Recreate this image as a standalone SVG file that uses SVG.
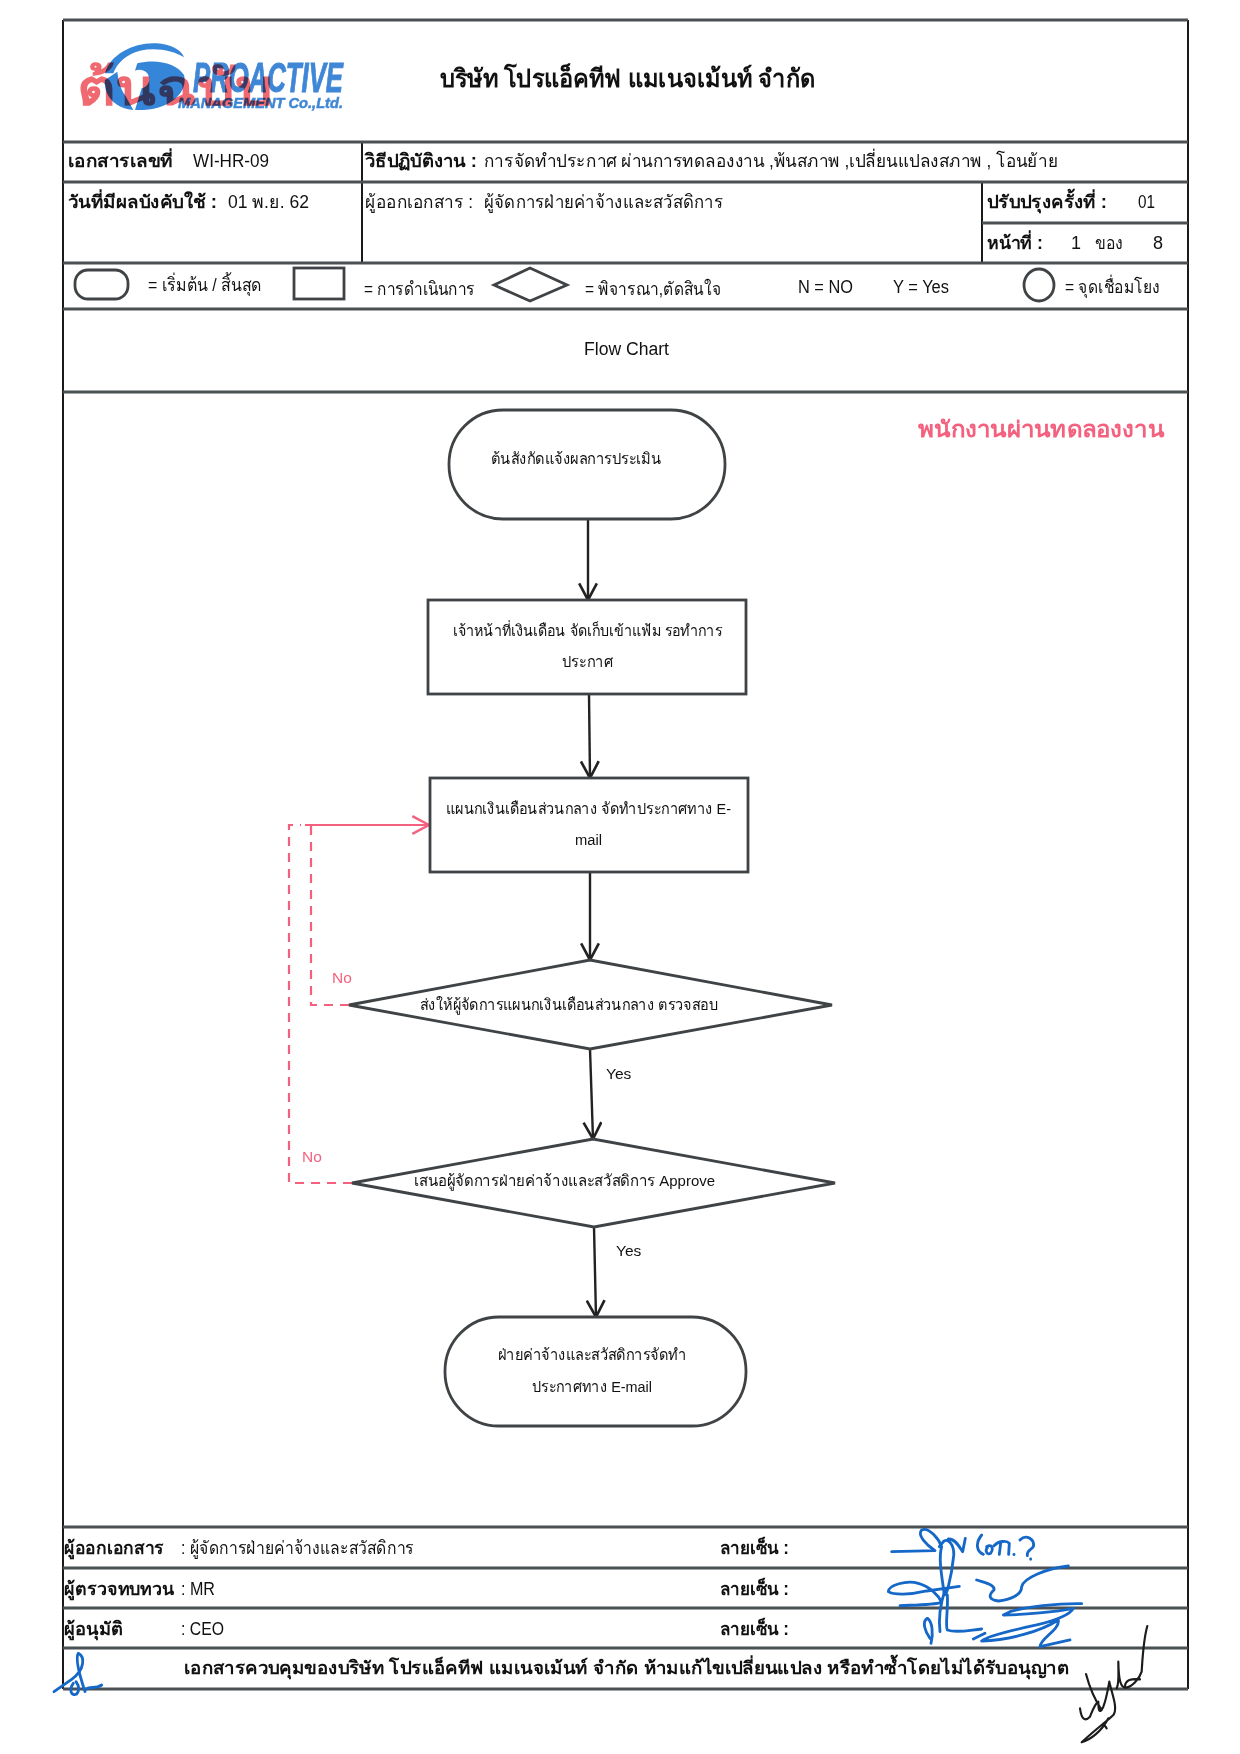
<svg xmlns="http://www.w3.org/2000/svg" width="1240" height="1754" viewBox="0 0 1240 1754">
<style>
text{font-family:"Liberation Sans","Noto Sans","DejaVu Sans",sans-serif;fill:#111;font-size:18px}
.b{font-weight:bold}
.s{font-size:15.5px}
.grid{stroke:#4b5052;stroke-width:3;fill:none}
.thin{stroke:#1a1a1a;stroke-width:2;fill:none}
.shape{fill:#fff;stroke:#3f4345;stroke-width:2.8}
.flow{stroke:#222;stroke-width:2.4;fill:none;marker-end:url(#ah)}
.pinkd{stroke:#f4617f;stroke-width:2.2;fill:none;stroke-dasharray:9 7}
.pinks{stroke:#f4617f;stroke-width:2.2;fill:none;marker-end:url(#ahp)}
.pink{fill:#f4617f}
.logo{fill:#3585d8}
.lt{fill:#3f87d6;stroke:#3f87d6;font-weight:bold;font-style:italic}
.sig{fill:none;stroke:#1567c8;stroke-width:8.5;stroke-linecap:round;stroke-linejoin:round}
.sigk{fill:none;stroke:#1c1c1c;stroke-width:6.5;stroke-linecap:round;stroke-linejoin:round}
</style>
<defs>
<marker id="ah" markerUnits="userSpaceOnUse" markerWidth="20" markerHeight="20" refX="16" refY="9" orient="auto" viewBox="0 0 18 18"><path d="M1 1L16 9L1 17" fill="none" stroke="#222" stroke-width="2.4"/></marker>
<marker id="ahp" markerUnits="userSpaceOnUse" markerWidth="20" markerHeight="20" refX="16" refY="9" orient="auto" viewBox="0 0 18 18"><path d="M1 1L16 9L1 17" fill="none" stroke="#f4617f" stroke-width="2.2"/></marker>
</defs>
<rect width="1240" height="1754" fill="#fff"/>
<g id="frame">
<path class="thin" d="M63 20V1689M1188 20V1689M362 142V263M982 182V263"/>
<path class="grid" d="M63 20H1188M63 142H1188M63 182H1188M982 223H1188M63 263H1188M63 309H1188M63 392H1188M63 1527H1188M63 1568H1188M63 1608H1188M63 1648H1188M63 1689H1188"/>
</g>
<g id="logo">
<g transform="translate(60 30) scale(.3333)">
<path class="logo" d="M135 130C150 70 230 35 290 40C330 42 365 60 372 82C340 62 290 52 240 62C200 72 170 100 160 130Z"/>
<path class="logo" d="M232 100C290 85 350 100 372 135C385 180 340 235 250 240L225 240L245 175C265 170 275 150 262 130C250 118 235 118 225 122Z"/>
<path class="logo" d="M135 150C130 190 160 235 220 240L195 195C180 175 175 150 172 125Z"/>
</g>
<text x="193" y="92" class="lt" style="font-size:42px;stroke-width:1" textLength="150" lengthAdjust="spacingAndGlyphs">PROACTIVE</text>
<text x="178" y="108" class="lt" style="font-size:14.5px;stroke-width:.5" textLength="165" lengthAdjust="spacingAndGlyphs">MANAGEMENT Co.,Ltd.</text>
<text id="stamp" x="77" y="105" class="b" style="font-size:50px;fill:#ee4f58;opacity:.85;mix-blend-mode:multiply" textLength="196" lengthAdjust="spacingAndGlyphs">ต้นฉบับ</text>
</g>
<g id="header">
<text x="440" y="87" class="b" style="font-size:25px" textLength="375" lengthAdjust="spacingAndGlyphs">บริษัท โปรแอ็คทีฟ แมเนจเม้นท์ จำกัด</text>
<text x="68" y="167" class="b" textLength="105" lengthAdjust="spacingAndGlyphs">เอกสารเลขที่</text>
<text x="193" y="167" textLength="76" lengthAdjust="spacingAndGlyphs">WI-HR-09</text>
<text x="365" y="167" class="b" textLength="112" lengthAdjust="spacingAndGlyphs">วิธีปฏิบัติงาน :</text>
<text x="484" y="167" textLength="574" lengthAdjust="spacingAndGlyphs">การจัดทำประกาศ ผ่านการทดลองงาน ,พ้นสภาพ ,เปลี่ยนแปลงสภาพ , โอนย้าย</text>
<text x="68" y="208" class="b" textLength="149" lengthAdjust="spacingAndGlyphs">วันที่มีผลบังคับใช้ :</text>
<text x="228" y="208" textLength="81" lengthAdjust="spacingAndGlyphs">01 พ.ย. 62</text>
<text x="365" y="208" textLength="108" lengthAdjust="spacingAndGlyphs">ผู้ออกเอกสาร :</text>
<text x="484" y="208" textLength="239" lengthAdjust="spacingAndGlyphs">ผู้จัดการฝ่ายค่าจ้างและสวัสดิการ</text>
<text x="987" y="208" class="b" textLength="120" lengthAdjust="spacingAndGlyphs">ปรับปรุงครั้งที่ :</text>
<text x="1138" y="208" textLength="17" lengthAdjust="spacingAndGlyphs">01</text>
<text x="987" y="249" class="b" textLength="56" lengthAdjust="spacingAndGlyphs">หน้าที่ :</text>
<text x="1071" y="249">1</text>
<text x="1095" y="249" textLength="28" lengthAdjust="spacingAndGlyphs">ของ</text>
<text x="1153" y="249">8</text>
</g>
<g id="legend">
<rect class="shape" x="75" y="270" width="53" height="29" rx="13"/>
<text x="148" y="291" textLength="114" lengthAdjust="spacingAndGlyphs">= เริ่มต้น / สิ้นสุด</text>
<rect class="shape" x="294" y="268" width="50" height="31"/>
<text x="364" y="295" textLength="111" lengthAdjust="spacingAndGlyphs">= การดำเนินการ</text>
<polygon class="shape" points="494,285 530,268 567,285 530,301"/>
<text x="585" y="295" textLength="136" lengthAdjust="spacingAndGlyphs">= พิจารณา,ตัดสินใจ</text>
<text x="798" y="293" textLength="55" lengthAdjust="spacingAndGlyphs">N = NO</text>
<text x="893" y="293" textLength="56" lengthAdjust="spacingAndGlyphs">Y = Yes</text>
<ellipse class="shape" cx="1039" cy="285" rx="15" ry="16"/>
<text x="1065" y="293" textLength="95" lengthAdjust="spacingAndGlyphs">= จุดเชื่อมโยง</text>
<text x="584" y="355" textLength="85" lengthAdjust="spacingAndGlyphs">Flow Chart</text>
<text x="918" y="437" class="b pink" style="font-size:22px" textLength="246" lengthAdjust="spacingAndGlyphs">พนักงานผ่านทดลองงาน</text>
</g>
<g id="connectors">
<path class="flow" d="M588 519V600"/>
<path class="flow" d="M589 694L590 778"/>
<path class="flow" d="M590 872V960"/>
<path class="flow" d="M590 1049L593 1139"/>
<path class="flow" d="M594 1227L596 1317"/>
<path class="pinkd" d="M349 1005H311V825"/>
<path class="pinkd" d="M352 1183H289V825H301"/>
<path class="pinks" d="M305 825H429"/>
</g>
<g id="n1-start">
<rect class="shape" x="449" y="410" width="276" height="109" rx="54" ry="54"/>
<text class="s" x="491" y="464" textLength="170" lengthAdjust="spacingAndGlyphs">ต้นสังกัดแจ้งผลการประเมิน</text>
</g>
<g id="n2-file">
<rect class="shape" x="428" y="600" width="318" height="94"/>
<text class="s" x="453" y="636" textLength="269" lengthAdjust="spacingAndGlyphs">เจ้าหน้าที่เงินเดือน จัดเก็บเข้าแฟ้ม รอทำการ</text>
<text class="s" x="562" y="667" textLength="51" lengthAdjust="spacingAndGlyphs">ประกาศ</text>
</g>
<g id="n3-email">
<rect class="shape" x="430" y="778" width="318" height="94"/>
<text class="s" x="446" y="814" textLength="285" lengthAdjust="spacingAndGlyphs">แผนกเงินเดือนส่วนกลาง จัดทำประกาศทาง E-</text>
<text class="s" x="575" y="845" textLength="27" lengthAdjust="spacingAndGlyphs">mail</text>
</g>
<g id="n4-check">
<polygon class="shape" points="349,1005 590,960 832,1005 590,1049"/>
<text class="s" x="420" y="1010" textLength="298" lengthAdjust="spacingAndGlyphs">ส่งให้ผู้จัดการแผนกเงินเดือนส่วนกลาง ตรวจสอบ</text>
</g>
<g id="n5-approve">
<polygon class="shape" points="352,1183 593,1139 835,1183 594,1227"/>
<text class="s" x="414" y="1186" textLength="301" lengthAdjust="spacingAndGlyphs">เสนอผู้จัดการฝ่ายค่าจ้างและสวัสดิการ  Approve</text>
</g>
<g id="n6-end">
<rect class="shape" x="445" y="1317" width="301" height="109" rx="54" ry="54"/>
<text class="s" x="498" y="1360" textLength="188" lengthAdjust="spacingAndGlyphs">ฝ่ายค่าจ้างและสวัสดิการจัดทำ</text>
<text class="s" x="532" y="1392" textLength="120" lengthAdjust="spacingAndGlyphs">ประกาศทาง E-mail</text>
</g>
<g id="edge-labels">
<text class="s" x="606" y="1079">Yes</text>
<text class="s" x="616" y="1256">Yes</text>
<text class="s pink" x="332" y="983">No</text>
<text class="s pink" x="302" y="1162">No</text>
</g>
<g id="footer">
<text x="64" y="1554" textLength="100" lengthAdjust="spacingAndGlyphs" class="b">ผู้ออกเอกสาร</text>
<text x="181" y="1554" textLength="233" lengthAdjust="spacingAndGlyphs">: ผู้จัดการฝ่ายค่าจ้างและสวัสดิการ</text>
<text x="720" y="1554" textLength="69" lengthAdjust="spacingAndGlyphs" class="b">ลายเซ็น :</text>
<text x="64" y="1595" textLength="110" lengthAdjust="spacingAndGlyphs" class="b">ผู้ตรวจทบทวน</text>
<text x="181" y="1595" textLength="34" lengthAdjust="spacingAndGlyphs">: MR</text>
<text x="720" y="1595" textLength="69" lengthAdjust="spacingAndGlyphs" class="b">ลายเซ็น :</text>
<text x="64" y="1635" textLength="59" lengthAdjust="spacingAndGlyphs" class="b">ผู้อนุมัติ</text>
<text x="181" y="1635" textLength="43" lengthAdjust="spacingAndGlyphs">: CEO</text>
<text x="720" y="1635" textLength="69" lengthAdjust="spacingAndGlyphs" class="b">ลายเซ็น :</text>
<text x="184" y="1674" textLength="885" lengthAdjust="spacingAndGlyphs" class="b">เอกสารควบคุมของบริษัท โปรแอ็คทีฟ แมเนจเม้นท์ จำกัด ห้ามแก้ไขเปลี่ยนแปลง หรือทำซ้ำโดยไม่ได้รับอนุญาต</text>
</g>
<g id="signatures">
<g transform="translate(870 1515) scale(.3333)">
<path class="sig" d="M65 110L195 107C170 90 140 60 155 45C178 35 208 75 215 95C205 130 215 180 222 232C226 265 245 180 250 130C256 100 240 68 222 78L208 95M235 72C255 70 268 95 278 110L286 70"/>
<path class="sig" d="M335 60C315 85 320 110 340 118M350 95C365 85 372 100 362 115C350 122 345 105 352 98M372 92C385 78 410 75 418 85L416 118M392 85L388 118M432 118V119M450 75C470 55 495 75 490 95C485 105 470 105 472 122M482 132V133"/>
<path class="sig" d="M268 214L170 228C120 240 70 240 55 230C55 210 110 195 145 205C180 215 205 240 215 262C190 270 130 270 90 272"/>
<path class="sig" d="M320 195C350 205 375 210 372 225C355 240 355 255 385 258C420 255 455 240 455 215C460 190 530 160 595 153"/>
<path class="sig" d="M225 225C210 270 205 310 210 350M232 240C235 280 225 330 232 345C260 355 300 345 335 342M183 385C190 360 188 320 172 310C155 320 165 350 180 370"/>
<path class="sig" d="M635 266C560 265 470 275 420 290L400 300C460 300 560 290 610 280C600 300 560 315 500 330C430 345 350 365 335 378C420 375 510 350 565 315C570 345 510 370 510 395L600 375M310 372L345 355"/>
</g>
<g transform="translate(1060 1620) scale(.3333)">
<path class="sigk" d="M262 18C250 60 248 110 245 155C238 178 215 200 198 203C182 205 176 180 175 125C175 165 178 190 170 205M195 200C195 180 215 175 240 178"/>
<path class="sigk" d="M78 162C88 200 105 240 125 270M60 265C65 300 75 305 90 290C100 265 105 250 115 245C115 270 118 285 130 260C140 235 145 200 148 185C155 220 175 265 160 285C145 300 110 325 65 367C90 360 125 335 145 295M130 310L140 325"/>
</g>
<g transform="translate(40 1640) scale(.3333)">
<path class="sig" d="M42 155L95 118C135 90 135 50 115 40C105 55 120 110 135 155M100 130C85 150 95 170 110 162C120 150 115 135 108 125M135 150C150 135 165 150 185 135"/>
</g>
</g>
</svg>
